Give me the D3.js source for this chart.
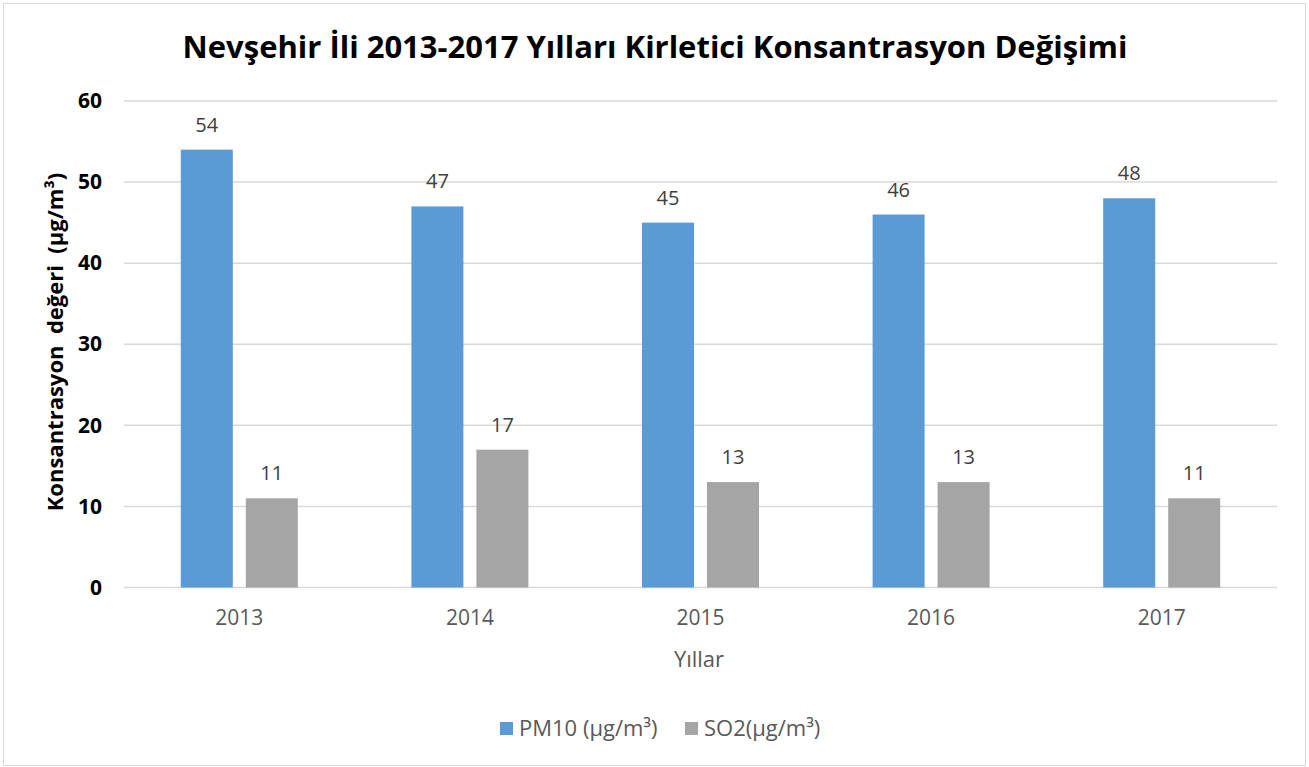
<!DOCTYPE html>
<html>
<head>
<meta charset="utf-8">
<script src="https://cdn.jsdelivr.net/npm/d3@7"></script>
<style>
  body { margin: 0; background: #fff; }
  text { font-family: "Open Sans", "Noto Sans", sans-serif; }
</style>
</head>
<body>
<div id="chart"></div>
<script>
const years = ["2013", "2014", "2015", "2016", "2017"];
const seriesNames = ["PM10 (µg/m³)", "SO2(µg/m³)"];
const pm10 = [54, 47, 45, 46, 48];
const so2 = [11, 17, 13, 13, 11];
const yTicks = [0, 10, 20, 30, 40, 50, 60];
const colors = ["#5b9bd5", "#a5a5a5"];

const width = 1309;
const height = 767;
const marginTop = 101;
const marginBottom = 179;
const marginLeft = 124;
const marginRight = 32;

const data = years.map((y, i) => ({year: y, values: [pm10[i], so2[i]]}));

const svg = d3.select("#chart").append("svg")
    .attr("width", width)
    .attr("height", height);

// outer border
svg.append("rect")
    .attr("x", 3.5).attr("y", 3.5)
    .attr("width", 1302).attr("height", 762)
    .attr("fill", "#fff")
    .attr("stroke", "#d9d9d9");

const fx = d3.scaleBand()
    .domain(years)
    .range([marginLeft, width - marginRight]);

const x = d3.scaleBand()
    .domain([0, 1])
    .range([fx.bandwidth() / 2 - 58.5, fx.bandwidth() / 2 + 58.5])
    .paddingInner(0.2);

const y = d3.scaleLinear()
    .domain([0, 60])
    .range([height - marginBottom - 0.5, marginTop]);

// gridlines
svg.append("g")
    .selectAll("line")
    .data(yTicks)
    .join("line")
      .attr("x1", marginLeft)
      .attr("x2", width - marginRight)
      .attr("y1", d => y(d))
      .attr("y2", d => y(d))
      .attr("stroke", "#d9d9d9")
      .attr("stroke-width", 1.5);

// y axis labels
svg.append("g")
    .attr("transform", `translate(${marginLeft - 22},0)`)
    .call(d3.axisLeft(y).tickValues(yTicks).tickSize(0).tickPadding(0))
    .call(g => g.select(".domain").remove())
    .call(g => g.selectAll("text")
        .attr("font-family", "'Open Sans', sans-serif")
        .attr("font-size", 21)
        .attr("font-weight", "bold")
        .attr("fill", "#000"));

// bars
const groups = svg.append("g")
    .selectAll("g")
    .data(data)
    .join("g")
      .attr("transform", d => `translate(${fx(d.year)},0)`);

groups.selectAll("rect")
    .data(d => d.values)
    .join("rect")
      .attr("x", (d, i) => x(i))
      .attr("y", d => y(d))
      .attr("width", x.bandwidth())
      .attr("height", d => y(0) - y(d))
      .attr("fill", (d, i) => colors[i]);

groups.selectAll("text")
    .data(d => d.values)
    .join("text")
      .attr("x", (d, i) => x(i) + x.bandwidth() / 2)
      .attr("y", d => y(d) - 18)
      .attr("text-anchor", "middle")
      .attr("font-size", 20)
      .attr("fill", "#404040")
      .text(d => d);

// x axis labels
svg.append("g")
    .attr("transform", `translate(0,${y(0) + 23})`)
    .call(d3.axisBottom(fx).tickSize(0).tickPadding(0))
    .call(g => g.select(".domain").remove())
    .call(g => g.selectAll("text")
        .attr("font-family", "'Open Sans', sans-serif")
        .attr("font-size", 21)
        .attr("fill", "#595959"));

// titles
svg.append("text")
    .attr("x", 655)
    .attr("y", 58)
    .attr("text-anchor", "middle")
    .attr("font-size", 31)
    .attr("font-weight", "bold")
    .attr("fill", "#000")
    .text("Nevşehir İli 2013-2017 Yılları Kirletici Konsantrasyon Değişimi");

svg.append("text")
    .attr("x", 699)
    .attr("y", 667)
    .attr("text-anchor", "middle")
    .attr("font-size", 22)
    .attr("fill", "#595959")
    .text("Yıllar");

svg.append("text")
    .attr("transform", `translate(63,342) rotate(-90)`)
    .attr("text-anchor", "middle")
    .attr("font-size", 22)
    .attr("font-weight", "bold")
    .attr("fill", "#000")
    .attr("xml:space", "preserve")
    .text("Konsantrasyon  değeri  (µg/m³)");

// legend
const legendX = [500, 685];
const legend = svg.append("g")
    .selectAll("g")
    .data(seriesNames)
    .join("g")
      .attr("transform", (d, i) => `translate(${legendX[i]},722)`);

legend.append("rect")
    .attr("width", 13).attr("height", 13)
    .attr("fill", (d, i) => colors[i]);

legend.append("text")
    .attr("x", 19)
    .attr("y", 14)
    .attr("font-size", 22)
    .attr("fill", "#595959")
    .text(d => d);
</script>
</body>
</html>
